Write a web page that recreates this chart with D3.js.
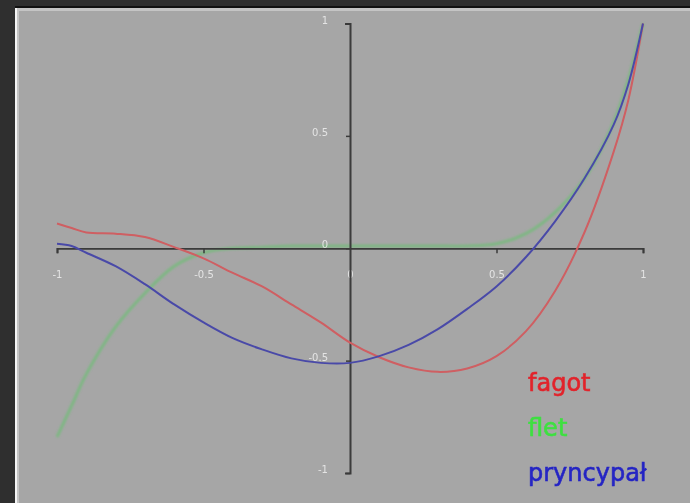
<!DOCTYPE html>
<html>
<head>
<meta charset="utf-8">
<script src="https://cdn.jsdelivr.net/npm/d3@7"></script>
<style>
  html, body { margin: 0; padding: 0; background: #2f2f2f; }
  svg { display: block; }
</style>
</head>
<body>
<script>
// Sample positions along the horizontal axis
const xs = [-1, -0.95, -0.9, -0.8, -0.7, -0.6, -0.5, -0.4, -0.3, -0.2, -0.1,
            0, 0.1, 0.2, 0.3, 0.4, 0.5, 0.6, 0.7, 0.8, 0.9, 0.95, 1];

// Series values at each sample position
const fagot = [0.11, 0.09, 0.07, 0.065, 0.05, 0.005, -0.045, -0.11, -0.17, -0.25, -0.33,
               -0.42, -0.485, -0.53, -0.55, -0.535, -0.48, -0.37, -0.19, 0.07, 0.43, 0.66, 1.0];
const flet = [-0.84, -0.70, -0.56, -0.35, -0.20, -0.08, -0.02, 0.0, 0.005, 0.01, 0.01,
              0.01, 0.01, 0.01, 0.01, 0.01, 0.02, 0.065, 0.16, 0.31, 0.56, 0.75, 1.0];
const pryncypal = [0.02, 0.01, -0.02, -0.08, -0.16, -0.25, -0.33, -0.40, -0.45, -0.49, -0.51,
                   -0.51, -0.48, -0.43, -0.36, -0.27, -0.17, -0.04, 0.12, 0.31, 0.55, 0.73, 1.0];

const seriesNames = ["fagot", "flet", "pryncypał"];
const tickValues = [-1, -0.5, 0, 0.5, 1];
const tickLabels = ["-1", "-0.5", "0", "0.5", "1"];

const W = 690, H = 503;
const svg = d3.select("body").append("svg").attr("width", W).attr("height", H);

// Gray panel with its bevelled frame
svg.append("rect").attr("x", 0).attr("y", 0).attr("width", W).attr("height", H).attr("fill", "#2f2f2f");
svg.append("rect").attr("x", 15).attr("y", 6).attr("width", W - 15).attr("height", H - 6).attr("fill", "#111");
svg.append("rect").attr("x", 15).attr("y", 8).attr("width", W - 15).attr("height", H - 8).attr("fill", "#f4f4f4");
svg.append("rect").attr("x", 17).attr("y", 8).attr("width", W - 17).attr("height", H - 8).attr("fill", "#c4c4c4");
svg.append("rect").attr("x", 19).attr("y", 11).attr("width", W - 19).attr("height", H - 11).attr("fill", "#a6a6a6");

const defs = svg.append("defs");
defs.append("filter").attr("id", "soft")
  .append("feGaussianBlur").attr("stdDeviation", 0.6);
defs.append("filter").attr("id", "softer")
  .append("feGaussianBlur").attr("stdDeviation", 0.9);

const x = d3.scaleLinear().domain([-1, 1]).range([57, 643]);
const y = d3.scaleLinear().domain([-1, 1]).range([473, 23.5]);

const line = d3.line()
  .x(d => x(d[0]))
  .y(d => y(d[1]))
  .curve(d3.curveCatmullRom.alpha(0.5));

const pts = vals => xs.map((v, i) => [v, vals[i]]);

// flet sits underneath the axes
svg.append("path")
  .attr("d", line(pts(flet)))
  .attr("fill", "none")
  .attr("stroke", "#6cbf74")
  .attr("stroke-opacity", 0.7)
  .attr("stroke-width", 3)
  .attr("filter", "url(#softer)");

const fmt = d => tickLabels[tickValues.indexOf(d)];

// Horizontal axis through y = 0
const gx = svg.append("g")
  .attr("transform", `translate(0,${y(0)})`)
  .call(d3.axisBottom(x).tickValues(tickValues).tickFormat(fmt)
        .tickSizeInner(5).tickSizeOuter(5).tickPadding(18));

// Vertical axis through x = 0
const gy = svg.append("g")
  .attr("transform", `translate(${x(0)},0)`)
  .call(d3.axisLeft(y).tickValues(tickValues).tickFormat(fmt)
        .tickSizeInner(4).tickSizeOuter(5).tickPadding(18));

[gx, gy].forEach(g => {
  g.select(".domain").attr("stroke", "#3a3a3a").attr("stroke-width", 2).attr("filter", "url(#soft)");
  g.selectAll(".tick line").attr("stroke", "#3a3a3a").attr("stroke-width", 1.5);
  g.selectAll(".tick text")
    .attr("fill", "#eeeeee")
    .attr("fill-opacity", 0.85)
    .attr("font-family", "Verdana, 'DejaVu Sans', sans-serif")
    .attr("font-size", 10)
    .attr("filter", "url(#soft)");
});
gy.selectAll(".tick text").attr("dy", "-0.05em");
gx.select(".tick:nth-child(4) line").remove();

// fagot and pryncypał over the axes
svg.append("path")
  .attr("d", line(pts(fagot)))
  .attr("fill", "none")
  .attr("stroke", "#cf5e62")
  .attr("stroke-width", 2)
  .attr("filter", "url(#soft)");

svg.append("path")
  .attr("d", line(pts(pryncypal)))
  .attr("fill", "none")
  .attr("stroke", "#4a4aa8")
  .attr("stroke-width", 2)
  .attr("filter", "url(#soft)");

// Legend
const legendLineColors = ["#c86a6e", "#8fb894", "#5a5a8e"];
const legendTextColors = ["#e2232b", "#3ee040", "#2525c4"];
const legendRows = [387, 432, 477];
const legend = svg.append("g");
seriesNames.forEach((name, i) => {
  legend.append("line")
    .attr("x1", 486).attr("x2", 518)
    .attr("y1", legendRows[i]).attr("y2", legendRows[i])
    .attr("stroke", legendLineColors[i])
    .attr("stroke-width", 2)
    .attr("filter", "url(#soft)");
  legend.append("text")
    .attr("x", 528)
    .attr("y", legendRows[i] + 4)
    .attr("fill", legendTextColors[i])
    .attr("stroke", legendTextColors[i])
    .attr("stroke-width", 0.6)
    .attr("font-family", "Verdana, 'DejaVu Sans', sans-serif")
    .attr("font-size", 24)
    .attr("filter", "url(#soft)")
    .text(name);
});
</script>
</body>
</html>
